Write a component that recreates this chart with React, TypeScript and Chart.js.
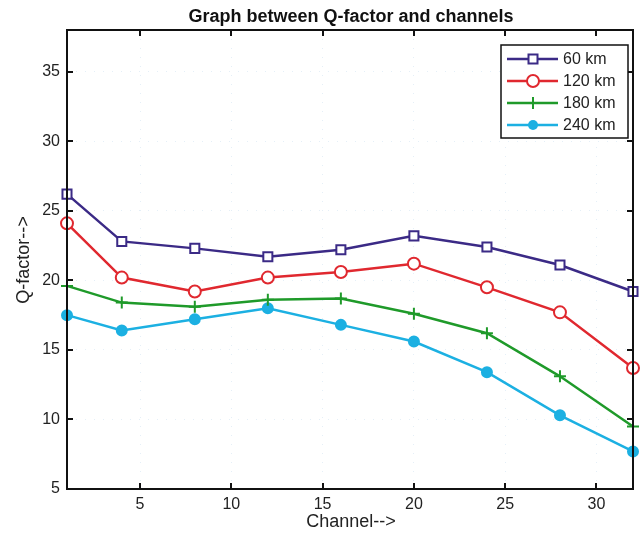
import React, { useEffect, useRef } from "react";
import { Chart, registerables } from "chart.js";

Chart.register(...registerables);

const channels = [1, 4, 8, 12, 16, 20, 24, 28, 32];
const q60 = [26.2, 22.8, 22.3, 21.7, 22.2, 23.2, 22.4, 21.1, 19.2];
const q120 = [24.1, 20.2, 19.2, 20.2, 20.6, 21.2, 19.5, 17.7, 13.7];
const q180 = [19.6, 18.4, 18.1, 18.6, 18.7, 17.6, 16.2, 13.1, 9.5];
const q240 = [17.5, 16.4, 17.2, 18.0, 16.8, 15.6, 13.4, 10.3, 7.7];
const seriesLabels = ["60 km", "120 km", "180 km", "240 km"];
const xTicks = [5, 10, 15, 20, 25, 30];
const yTicks = [5, 10, 15, 20, 25, 30, 35];

const colors = ["#3b2a86", "#e0282f", "#1f9a2a", "#1cb0e2"];
const FONT = "'Liberation Sans', Arial, Helvetica, sans-serif";

function drawMarker(ctx: CanvasRenderingContext2D, kind: number, x: number, y: number, color: string) {
  ctx.save();
  ctx.strokeStyle = color;
  ctx.fillStyle = color;
  ctx.lineWidth = 2;
  ctx.beginPath();
  if (kind === 0) {
    ctx.fillStyle = "#fff";
    ctx.rect(x - 4.5, y - 4.5, 9, 9);
    ctx.fill();
    ctx.stroke();
  } else if (kind === 1) {
    ctx.fillStyle = "#fff";
    ctx.arc(x, y, 6, 0, Math.PI * 2);
    ctx.fill();
    ctx.stroke();
  } else if (kind === 2) {
    ctx.moveTo(x - 6, y);
    ctx.lineTo(x + 6, y);
    ctx.moveTo(x, y - 6);
    ctx.lineTo(x, y + 6);
    ctx.stroke();
  } else {
    ctx.arc(x, y, 5, 0, Math.PI * 2);
    ctx.fill();
  }
  ctx.restore();
}

const decorPlugin = {
  id: "decor",
  afterDraw(chart: any) {
    const ctx: CanvasRenderingContext2D = chart.ctx;
    const a = chart.chartArea;
    const xs = chart.scales.x;
    const ys = chart.scales.y;
    ctx.save();
    ctx.strokeStyle = "#111";
    ctx.lineWidth = 2;
    ctx.strokeRect(a.left, a.top, a.right - a.left, a.bottom - a.top);
    const tl = 6;
    ctx.beginPath();
    xTicks.forEach((v) => {
      const px = Math.round(xs.getPixelForValue(v));
      ctx.moveTo(px, a.bottom);
      ctx.lineTo(px, a.bottom - tl);
      ctx.moveTo(px, a.top);
      ctx.lineTo(px, a.top + tl);
    });
    yTicks.forEach((v) => {
      const py = Math.round(ys.getPixelForValue(v));
      ctx.moveTo(a.left, py);
      ctx.lineTo(a.left + tl, py);
      ctx.moveTo(a.right, py);
      ctx.lineTo(a.right - tl, py);
    });
    ctx.stroke();

    ctx.fillStyle = "#111";
    ctx.font = "bold 18px " + FONT;
    ctx.textAlign = "center";
    ctx.textBaseline = "middle";
    ctx.fillText("Graph between Q-factor and channels", 351, 17);

    ctx.font = "18px " + FONT;
    ctx.fillStyle = "#222";
    ctx.fillText("Channel-->", 351, 522);
    ctx.save();
    ctx.translate(24, 260);
    ctx.rotate(-Math.PI / 2);
    ctx.fillText("Q-factor-->", 0, 0);
    ctx.restore();

    const lx = 501, ly = 45, lw = 127, lh = 93;
    ctx.fillStyle = "#fff";
    ctx.fillRect(lx, ly, lw, lh);
    ctx.strokeStyle = "#111";
    ctx.lineWidth = 1.5;
    ctx.strokeRect(lx, ly, lw, lh);
    const rows = [59, 81, 103, 125];
    seriesLabels.forEach((lab, i) => {
      const y = rows[i];
      ctx.strokeStyle = colors[i];
      ctx.lineWidth = 2.5;
      ctx.beginPath();
      ctx.moveTo(507, y);
      ctx.lineTo(558, y);
      ctx.stroke();
      drawMarker(ctx, i, 533, y, colors[i]);
      ctx.fillStyle = "#222";
      ctx.font = "16px " + FONT;
      ctx.textAlign = "left";
      ctx.textBaseline = "middle";
      ctx.fillText(lab, 563, y + 1);
    });
    ctx.restore();
  },
};

export default function App() {
  const ref = useRef<HTMLCanvasElement | null>(null);
  useEffect(() => {
    document.body.style.margin = "0";
    const canvas = ref.current!;
    const mk = (arr: number[]) => channels.map((c, i) => ({ x: c, y: arr[i] }));
    const all = [q60, q120, q180, q240];
    const styles: any[] = ["rect", "circle", "cross", "circle"];
    const radii = [6.4, 6, 6, 5];
    const chart = new Chart(canvas, {
      type: "line",
      data: {
        datasets: all.map((arr, i) => ({
          label: seriesLabels[i],
          data: mk(arr),
          borderColor: colors[i],
          backgroundColor: i === 3 ? colors[i] : "#fff",
          borderWidth: 2.5,
          pointStyle: styles[i],
          pointRadius: radii[i],
          pointBorderWidth: 2,
          pointBorderColor: colors[i],
          pointBackgroundColor: i === 3 ? colors[i] : "#fff",
          tension: 0,
          clip: false as any,
        })),
      },
      options: {
        animation: false,
        responsive: false,
        maintainAspectRatio: false,
        layout: { padding: { top: 30, right: 10, left: 0, bottom: 0 } },
        plugins: {
          legend: { display: false },
          title: { display: false },
          tooltip: { enabled: false },
        },
        scales: {
          x: {
            type: "linear",
            min: 1,
            max: 32,
            afterBuildTicks: (s: any) => {
              s.ticks = xTicks.map((v) => ({ value: v }));
            },
            afterFit: (s: any) => {
              s.height = 46;
            },
            ticks: {
              padding: 6,
              color: "#222",
              font: { size: 16, family: FONT },
              maxRotation: 0,
            },
            grid: {
              drawTicks: false,
              color: "rgba(150,190,225,0.25)",
              lineWidth: 1,
            },
            border: { display: false, dash: [1, 8] },
          },
          y: {
            type: "linear",
            min: 5,
            max: 38,
            afterBuildTicks: (s: any) => {
              s.ticks = yTicks.map((v) => ({ value: v }));
            },
            afterFit: (s: any) => {
              s.width = 67;
            },
            ticks: {
              padding: 7,
              color: "#222",
              font: { size: 16, family: FONT },
            },
            grid: {
              drawTicks: false,
              color: "rgba(150,190,225,0.25)",
              lineWidth: 1,
            },
            border: { display: false, dash: [1, 8] },
          },
        },
      },
      plugins: [decorPlugin],
    });
    return () => chart.destroy();
  }, []);
  return (
    <div style={{ width: 643, height: 535 }}>
      <canvas ref={ref} width={643} height={535} style={{ display: "block" }} />
    </div>
  );
}
